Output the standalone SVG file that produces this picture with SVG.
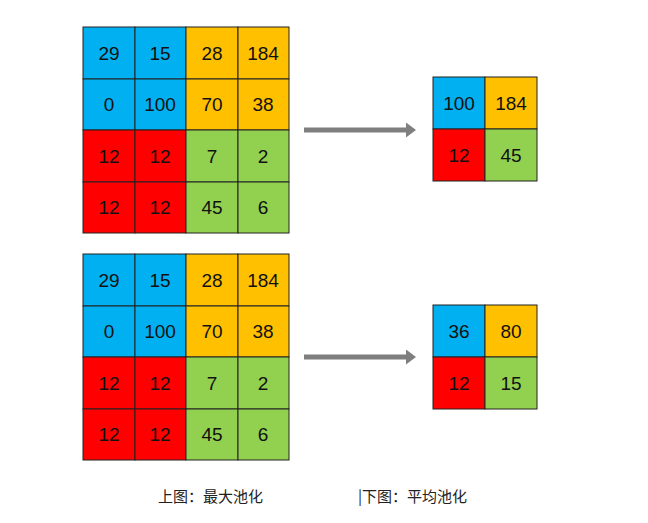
<svg xmlns="http://www.w3.org/2000/svg" width="648" height="523" viewBox="0 0 648 523">
<style>
.c{stroke:#222;stroke-width:1}
.b{fill:#00b0f0}.y{fill:#ffc000}.r{fill:#ff0000}.g{fill:#92d050}
text{font-family:"Liberation Sans",Arial,sans-serif;font-size:19px;fill:#111;text-anchor:middle;dominant-baseline:central}
.cap{font-family:"Noto Sans CJK SC",sans-serif;font-size:15px;text-anchor:start;dominant-baseline:auto;fill:#222}
</style>
<defs>
<marker id="ah" markerWidth="3" markerHeight="3" refX="1.2" refY="1.5" orient="auto"><path d="M0,0L2,1.5L0,3Z" fill="#7f7f7f"/></marker>
</defs>
<rect width="648" height="523" fill="#fff"/>
<g id="grid1">
<rect class="c b" x="83" y="27" width="52" height="52"/><text x="109" y="53">29</text>
<rect class="c b" x="135" y="27" width="51" height="52"/><text x="160" y="53">15</text>
<rect class="c y" x="186" y="27" width="52" height="52"/><text x="212" y="53">28</text>
<rect class="c y" x="238" y="27" width="51" height="52"/><text x="263" y="53">184</text>
<rect class="c b" x="83" y="79" width="52" height="51"/><text x="109" y="104">0</text>
<rect class="c b" x="135" y="79" width="51" height="51"/><text x="160" y="104">100</text>
<rect class="c y" x="186" y="79" width="52" height="51"/><text x="212" y="104">70</text>
<rect class="c y" x="238" y="79" width="51" height="51"/><text x="263" y="104">38</text>
<rect class="c r" x="83" y="130" width="52" height="52"/><text x="109" y="156">12</text>
<rect class="c r" x="135" y="130" width="51" height="52"/><text x="160" y="156">12</text>
<rect class="c g" x="186" y="130" width="52" height="52"/><text x="212" y="156">7</text>
<rect class="c g" x="238" y="130" width="51" height="52"/><text x="263" y="156">2</text>
<rect class="c r" x="83" y="182" width="52" height="51"/><text x="109" y="207">12</text>
<rect class="c r" x="135" y="182" width="51" height="51"/><text x="160" y="207">12</text>
<rect class="c g" x="186" y="182" width="52" height="51"/><text x="212" y="207">45</text>
<rect class="c g" x="238" y="182" width="51" height="51"/><text x="263" y="207">6</text>
</g>
<g id="grid2">
<rect class="c b" x="83" y="254" width="52" height="52"/><text x="109" y="280">29</text>
<rect class="c b" x="135" y="254" width="51" height="52"/><text x="160" y="280">15</text>
<rect class="c y" x="186" y="254" width="52" height="52"/><text x="212" y="280">28</text>
<rect class="c y" x="238" y="254" width="51" height="52"/><text x="263" y="280">184</text>
<rect class="c b" x="83" y="306" width="52" height="51"/><text x="109" y="331">0</text>
<rect class="c b" x="135" y="306" width="51" height="51"/><text x="160" y="331">100</text>
<rect class="c y" x="186" y="306" width="52" height="51"/><text x="212" y="331">70</text>
<rect class="c y" x="238" y="306" width="51" height="51"/><text x="263" y="331">38</text>
<rect class="c r" x="83" y="357" width="52" height="52"/><text x="109" y="383">12</text>
<rect class="c r" x="135" y="357" width="51" height="52"/><text x="160" y="383">12</text>
<rect class="c g" x="186" y="357" width="52" height="52"/><text x="212" y="383">7</text>
<rect class="c g" x="238" y="357" width="51" height="52"/><text x="263" y="383">2</text>
<rect class="c r" x="83" y="409" width="52" height="51"/><text x="109" y="434">12</text>
<rect class="c r" x="135" y="409" width="51" height="51"/><text x="160" y="434">12</text>
<rect class="c g" x="186" y="409" width="52" height="51"/><text x="212" y="434">45</text>
<rect class="c g" x="238" y="409" width="51" height="51"/><text x="263" y="434">6</text>
</g>
<g id="out1">
<rect class="c b" x="433" y="77" width="52" height="52"/><text x="459" y="103">100</text>
<rect class="c y" x="485" y="77" width="52" height="52"/><text x="511" y="103">184</text>
<rect class="c r" x="433" y="129" width="52" height="52"/><text x="459" y="155">12</text>
<rect class="c g" x="485" y="129" width="52" height="52"/><text x="511" y="155">45</text>
</g>
<g id="out2">
<rect class="c b" x="433" y="305" width="52" height="52"/><text x="459" y="331">36</text>
<rect class="c y" x="485" y="305" width="52" height="52"/><text x="511" y="331">80</text>
<rect class="c r" x="433" y="357" width="52" height="52"/><text x="459" y="383">12</text>
<rect class="c g" x="485" y="357" width="52" height="52"/><text x="511" y="383">15</text>
</g>
<g id="connectors" stroke="#7f7f7f" stroke-width="5">
<line x1="304" y1="130" x2="412" y2="130" marker-end="url(#ah)"/>
<line x1="304" y1="357" x2="412" y2="357" marker-end="url(#ah)"/>
</g>
<text class="cap" x="158" y="502">上图：最大池化</text>
<text class="cap" x="358" y="502">|下图：平均池化</text>
</svg>
